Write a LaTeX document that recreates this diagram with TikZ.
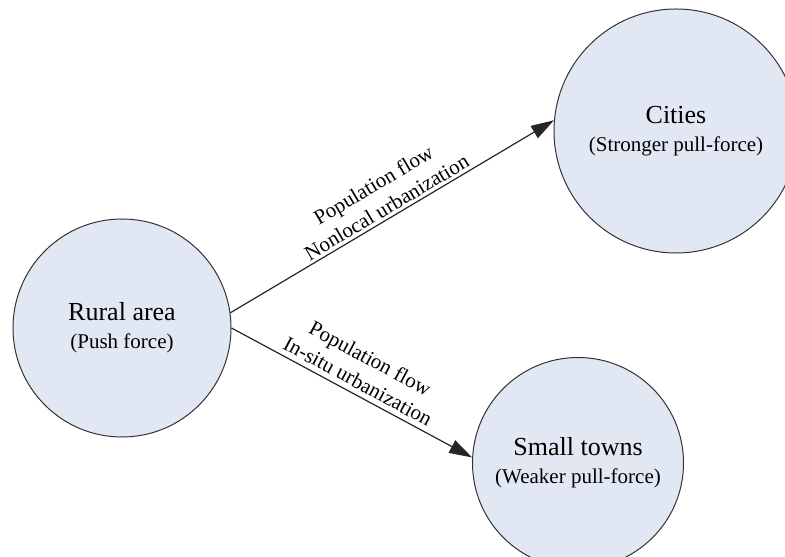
\documentclass[tikz,border=0pt]{standalone}
\usepackage{fontspec}
\setmainfont{Liberation Serif}
\usepackage{tikz}
\usetikzlibrary{arrows.meta}
\definecolor{areafill}{RGB}{226,232,243}
\newcommand{\bigname}{\fontsize{13bp}{16bp}\selectfont}
\newcommand{\smallname}{\fontsize{10.5bp}{13bp}\selectfont}

\begin{document}
\begin{tikzpicture}[x=0.5bp,y=-0.5bp]
				\useasboundingbox (0,0) rectangle (785,557);
				\clip (0,0) rectangle (785,557);
				\begin{scope}[every node/.style = {circle, draw=black!80, fill=areafill,
						line width=0.5bp, align=center, inner sep=0pt}]
					\node[minimum size=109bp] (rural) at (122,328) {\bigname Rural area\\[2bp]\smallname (Push force)};
					\node[minimum size=122bp] (cities) at (676,131) {\bigname Cities\\[2bp]\smallname (Stronger pull-force)};
					\node[minimum size=105.5bp] (towns) at (578,463) {\bigname Small towns\\[2bp]\smallname (Weaker pull-force)};
				\end{scope}
				\begin{scope}[>={Triangle[length=11.5bp,width=7bp]},
						every edge/.style={draw=black!85, line width=0.6bp}]
					\path [->] (rural.8) edge node[sloped, above, align=center, inner sep=1.5bp, font=\smallname]
						{Population flow\\Nonlocal urbanization} (cities.175);
					\path [->] (rural.0) edge node[sloped, above, align=center, inner sep=2.5bp, font=\smallname]
						{Population flow\\In-situ urbanization} (towns.177);
				\end{scope}
			\end{tikzpicture}
\end{document}
